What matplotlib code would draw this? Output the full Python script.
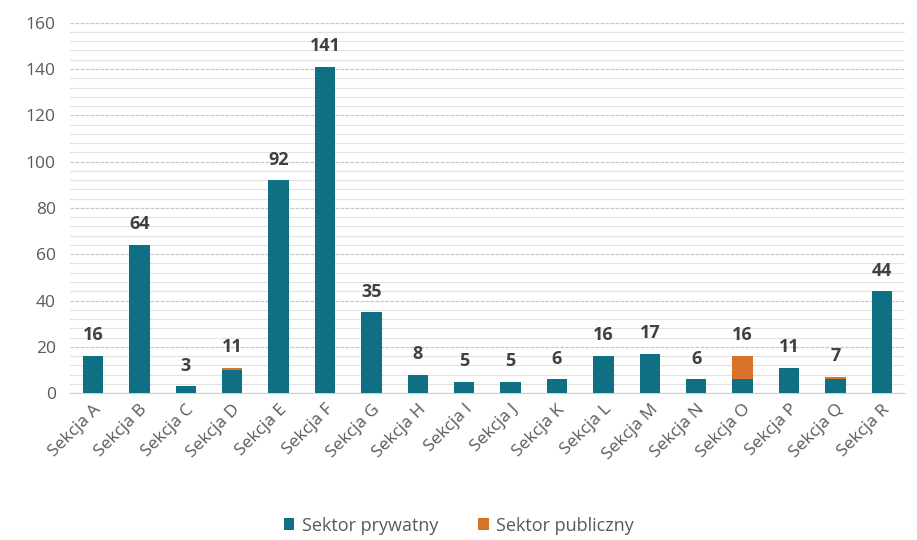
import numpy as np
import matplotlib.pyplot as plt
from matplotlib.ticker import MultipleLocator

# data
sekcje = ["Sekcja A", "Sekcja B", "Sekcja C", "Sekcja D", "Sekcja E", "Sekcja F",
          "Sekcja G", "Sekcja H", "Sekcja I", "Sekcja J", "Sekcja K", "Sekcja L",
          "Sekcja M", "Sekcja N", "Sekcja O", "Sekcja P", "Sekcja Q", "Sekcja R"]
prywatny = [16, 64, 3, 10, 92, 141, 35, 8, 5, 5, 6, 16, 17, 6, 6, 11, 6, 44]
publiczny = [0, 0, 0, 1, 0, 0, 0, 0, 0, 0, 0, 0, 0, 0, 10, 0, 1, 0]

plt.rcParams['font.family'] = ['Open Sans', 'DejaVu Sans']

fig = plt.figure(figsize=(9.17, 5.4), dpi=100)
ax = fig.add_axes([0.076, 0.272, 0.911, 0.686])

x = np.arange(len(sekcje))
teal = "#0f6f83"
orange = "#d9722a"
ax.bar(x, prywatny, width=0.44, color=teal, label="Sektor prywatny", zorder=3)
ax.bar(x, publiczny, width=0.44, bottom=prywatny, color=orange,
       label="Sektor publiczny", zorder=3)

#total labels above bars
suma = np.array(prywatny) + np.array(publiczny)
for xi, s in zip(x, suma):
    ax.text(xi, s + 5, str(s), ha="center", va="bottom", fontsize=13,
            fontweight="bold", color="#404040")

ax.set_xlim(-0.5, len(sekcje) - 0.5)
ax.set_ylim(0, 160)
ax.yaxis.set_major_locator(MultipleLocator(20))
ax.yaxis.set_minor_locator(MultipleLocator(4))
ax.grid(axis="y", which="major", color="#c8c8c8", linestyle=(0, (3, 1)), linewidth=0.9, zorder=0)
ax.grid(axis="y", which="minor", color="#e2e2e2", linestyle="-", linewidth=0.8, zorder=0)

for sp in ["top", "right", "left"]:
    ax.spines[sp].set_visible(False)
ax.spines["bottom"].set_color("#d0d0d0")

ax.set_xticks(x)
ax.set_xticklabels(sekcje, rotation=45, ha="right", rotation_mode="anchor")
ax.tick_params(axis="x", length=0, labelsize=12.5, labelcolor="#595959", pad=6)
ax.tick_params(axis="y", which="both", length=0, labelsize=12.5, labelcolor="#595959", pad=10)

fig.legend(loc="lower center", bbox_to_anchor=(0.5, -0.02), ncol=2, frameon=False,
           fontsize=13, handlelength=0.6, handleheight=0.6, handletextpad=0.4,
           columnspacing=2.2, labelcolor="#595959")

fig.savefig("out.png", dpi=100)
